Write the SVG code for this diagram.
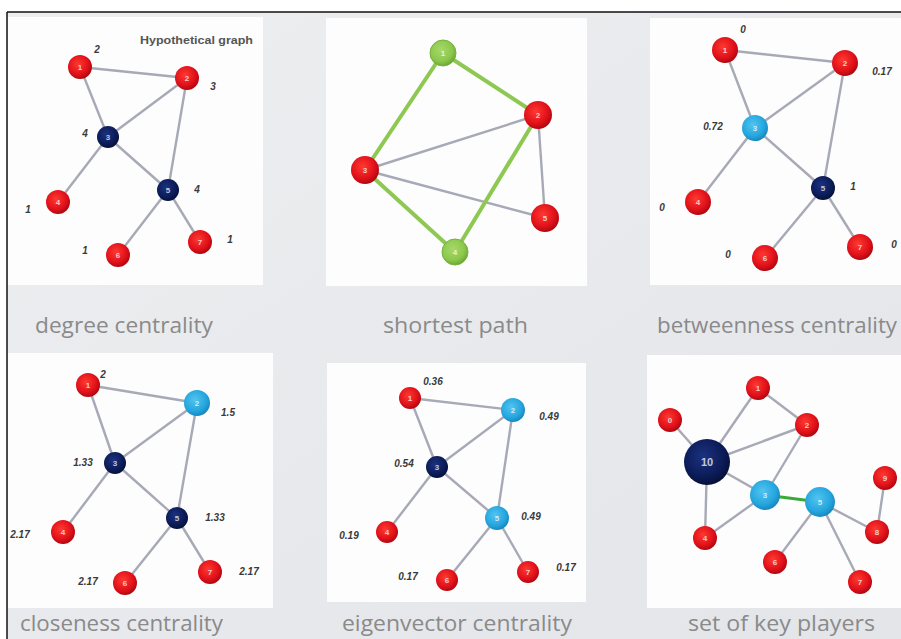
<svg xmlns="http://www.w3.org/2000/svg" width="901" height="639" viewBox="0 0 901 639">
<defs>
<radialGradient id="red" cx="0.42" cy="0.38" r="0.62">
<stop offset="0" stop-color="#ff3a30"/><stop offset="0.7" stop-color="#e0101a"/><stop offset="1" stop-color="#b00810"/>
</radialGradient>
<radialGradient id="navy" cx="0.42" cy="0.38" r="0.62">
<stop offset="0" stop-color="#1c3280"/><stop offset="0.7" stop-color="#0b1c58"/><stop offset="1" stop-color="#06113a"/>
</radialGradient>
<radialGradient id="cyan" cx="0.42" cy="0.38" r="0.62">
<stop offset="0" stop-color="#52c4f0"/><stop offset="0.7" stop-color="#25a6de"/><stop offset="1" stop-color="#1a88c0"/>
</radialGradient>
<radialGradient id="green" cx="0.42" cy="0.38" r="0.62">
<stop offset="0" stop-color="#a6d86a"/><stop offset="0.7" stop-color="#8cc84c"/><stop offset="1" stop-color="#6ea836"/>
</radialGradient>
<linearGradient id="bg" x1="0" y1="0" x2="1" y2="1">
<stop offset="0" stop-color="#eceef0"/><stop offset="1" stop-color="#e3e5e9"/>
</linearGradient>
<style>
.panel{fill:#fdfdfd}
.e{stroke:#a7aab6;stroke-width:2.4;fill:none}
.g{stroke:#8dc852;stroke-width:4;fill:none}
.lbl{font-family:"Open Sans","Liberation Sans",sans-serif;font-size:22px;fill:#8a8a8a}
.v{font-family:"Liberation Sans",sans-serif;font-style:italic;font-weight:bold;font-size:10px;fill:#3a3a3a;text-anchor:middle}
.n{font-family:"Liberation Sans",sans-serif;font-size:8px;font-weight:bold;fill:#ffffff;fill-opacity:0.75;text-anchor:middle}
.r{fill:url(#red)}
.k{fill:url(#navy)}
.c{fill:url(#cyan)}
.gr{fill:url(#green)}
</style>
</defs>
<rect x="0" y="0" width="901" height="639" fill="#ffffff"/>
<rect x="7" y="12" width="894" height="627" fill="url(#bg)"/>
<line x1="7" y1="12" x2="901" y2="12" stroke="#111" stroke-width="1.5"/>
<line x1="7" y1="12" x2="7" y2="639" stroke="#111" stroke-width="1.5"/>

<!-- panels -->
<rect class="panel" x="8" y="17" width="255" height="268"/>
<rect class="panel" x="326" y="18" width="261" height="268"/>
<rect class="panel" x="650" y="18" width="251" height="267"/>
<rect class="panel" x="8" y="353" width="265" height="255"/>
<rect class="panel" x="327" y="363" width="259" height="239"/>
<rect class="panel" x="647" y="355" width="254" height="253"/>

<!-- captions -->
<text class="lbl" x="35" y="333" textLength="178" lengthAdjust="spacingAndGlyphs">degree centrality</text>
<text class="lbl" x="383" y="333" textLength="145" lengthAdjust="spacingAndGlyphs">shortest path</text>
<text class="lbl" x="657" y="333" textLength="240" lengthAdjust="spacingAndGlyphs">betweenness centrality</text>
<text class="lbl" x="20" y="631" textLength="203" lengthAdjust="spacingAndGlyphs">closeness centrality</text>
<text class="lbl" x="342" y="631" textLength="230" lengthAdjust="spacingAndGlyphs">eigenvector centrality</text>
<text class="lbl" x="688" y="631" textLength="187" lengthAdjust="spacingAndGlyphs">set of key players</text>

<!-- ===== Panel 1: degree centrality ===== -->
<text x="140" y="44" textLength="113" lengthAdjust="spacingAndGlyphs" style="font-family:'Liberation Sans',sans-serif;font-size:10px;font-weight:bold;fill:#555">Hypothetical graph</text>
<g id="p1-connectors">
<line class="e" x1="80" y1="67" x2="187" y2="78"/>
<line class="e" x1="80" y1="67" x2="108" y2="137"/>
<line class="e" x1="187" y1="78" x2="108" y2="137"/>
<line class="e" x1="187" y1="78" x2="168" y2="190"/>
<line class="e" x1="108" y1="137" x2="168" y2="190"/>
<line class="e" x1="108" y1="137" x2="58" y2="202"/>
<line class="e" x1="168" y1="190" x2="118" y2="255"/>
<line class="e" x1="168" y1="190" x2="200" y2="242"/>
</g>
<g id="p1-n1"><circle class="r" cx="80" cy="67" r="12"/><text class="n" x="80" y="70">1</text><text class="v" x="97" y="53">2</text></g>
<g id="p1-n2"><circle class="r" cx="187" cy="78" r="12"/><text class="n" x="187" y="81">2</text><text class="v" x="213" y="90">3</text></g>
<g id="p1-n3"><circle class="k" cx="108" cy="137" r="11"/><text class="n" x="108" y="140">3</text><text class="v" x="85" y="137">4</text></g>
<g id="p1-n4"><circle class="r" cx="58" cy="202" r="12"/><text class="n" x="58" y="205">4</text><text class="v" x="28" y="213">1</text></g>
<g id="p1-n5"><circle class="k" cx="168" cy="190" r="11"/><text class="n" x="168" y="193">5</text><text class="v" x="197" y="193">4</text></g>
<g id="p1-n6"><circle class="r" cx="118" cy="255" r="12"/><text class="n" x="118" y="258">6</text><text class="v" x="85" y="254">1</text></g>
<g id="p1-n7"><circle class="r" cx="200" cy="242" r="12"/><text class="n" x="200" y="245">7</text><text class="v" x="230" y="243">1</text></g>

<!-- ===== Panel 2: shortest path ===== -->
<g id="p2-connectors">
<line class="e" x1="365" y1="170" x2="538" y2="115"/>
<line class="e" x1="365" y1="170" x2="545" y2="218"/>
<line class="e" x1="538" y1="115" x2="545" y2="218"/>
<line class="g" x1="443" y1="53" x2="365" y2="170"/>
<line class="g" x1="443" y1="53" x2="538" y2="115"/>
<line class="g" x1="365" y1="170" x2="455" y2="252"/>
<line class="g" x1="455" y1="252" x2="538" y2="115"/>
</g>
<g id="p2-n1"><circle class="gr" cx="443" cy="53" r="13" stroke="#78b040" stroke-width="1"/><text class="n" x="443" y="56">1</text></g>
<g id="p2-n2"><circle class="r" cx="538" cy="115" r="14"/><text class="n" x="538" y="118">2</text></g>
<g id="p2-n3"><circle class="r" cx="365" cy="170" r="14"/><text class="n" x="365" y="173">3</text></g>
<g id="p2-n4"><circle class="gr" cx="455" cy="252" r="13" stroke="#78b040" stroke-width="1"/><text class="n" x="455" y="255">4</text></g>
<g id="p2-n5"><circle class="r" cx="545" cy="218" r="14"/><text class="n" x="545" y="221">5</text></g>

<!-- ===== Panel 3: betweenness centrality ===== -->
<g id="p3-connectors">
<line class="e" x1="725" y1="50" x2="845" y2="63"/>
<line class="e" x1="725" y1="50" x2="755" y2="128"/>
<line class="e" x1="845" y1="63" x2="755" y2="128"/>
<line class="e" x1="845" y1="63" x2="823" y2="188"/>
<line class="e" x1="755" y1="128" x2="823" y2="188"/>
<line class="e" x1="755" y1="128" x2="698" y2="202"/>
<line class="e" x1="823" y1="188" x2="765" y2="258"/>
<line class="e" x1="823" y1="188" x2="860" y2="247"/>
</g>
<g id="p3-n1"><circle class="r" cx="725" cy="50" r="13"/><text class="n" x="725" y="53">1</text><text class="v" x="743" y="33">0</text></g>
<g id="p3-n2"><circle class="r" cx="845" cy="63" r="13"/><text class="n" x="845" y="66">2</text><text class="v" x="882" y="75">0.17</text></g>
<g id="p3-n3"><circle class="c" cx="755" cy="128" r="13"/><text class="n" x="755" y="131">3</text><text class="v" x="713" y="130">0.72</text></g>
<g id="p3-n4"><circle class="r" cx="698" cy="202" r="13"/><text class="n" x="698" y="205">4</text><text class="v" x="662" y="211">0</text></g>
<g id="p3-n5"><circle class="k" cx="823" cy="188" r="12"/><text class="n" x="823" y="191">5</text><text class="v" x="853" y="190">1</text></g>
<g id="p3-n6"><circle class="r" cx="765" cy="258" r="13"/><text class="n" x="765" y="261">6</text><text class="v" x="728" y="258">0</text></g>
<g id="p3-n7"><circle class="r" cx="860" cy="247" r="13"/><text class="n" x="860" y="250">7</text><text class="v" x="894" y="248">0</text></g>

<!-- ===== Panel 4: closeness centrality ===== -->
<g id="p4-connectors">
<line class="e" x1="88" y1="385" x2="197" y2="403"/>
<line class="e" x1="88" y1="385" x2="115" y2="463"/>
<line class="e" x1="197" y1="403" x2="115" y2="463"/>
<line class="e" x1="197" y1="403" x2="177" y2="518"/>
<line class="e" x1="115" y1="463" x2="177" y2="518"/>
<line class="e" x1="115" y1="463" x2="63" y2="532"/>
<line class="e" x1="177" y1="518" x2="125" y2="583"/>
<line class="e" x1="177" y1="518" x2="210" y2="572"/>
</g>
<g id="p4-n1"><circle class="r" cx="88" cy="385" r="12"/><text class="n" x="88" y="388">1</text><text class="v" x="103" y="378">2</text></g>
<g id="p4-n2"><circle class="c" cx="197" cy="403" r="13"/><text class="n" x="197" y="406">2</text><text class="v" x="228" y="416">1.5</text></g>
<g id="p4-n3"><circle class="k" cx="115" cy="463" r="11"/><text class="n" x="115" y="466">3</text><text class="v" x="83" y="466">1.33</text></g>
<g id="p4-n4"><circle class="r" cx="63" cy="532" r="12"/><text class="n" x="63" y="535">4</text><text class="v" x="20" y="538">2.17</text></g>
<g id="p4-n5"><circle class="k" cx="177" cy="518" r="11"/><text class="n" x="177" y="521">5</text><text class="v" x="215" y="521">1.33</text></g>
<g id="p4-n6"><circle class="r" cx="125" cy="583" r="12"/><text class="n" x="125" y="586">6</text><text class="v" x="88" y="585">2.17</text></g>
<g id="p4-n7"><circle class="r" cx="210" cy="572" r="12"/><text class="n" x="210" y="575">7</text><text class="v" x="249" y="575">2.17</text></g>

<!-- ===== Panel 5: eigenvector centrality ===== -->
<g id="p5-connectors">
<line class="e" x1="410" y1="398" x2="513" y2="410"/>
<line class="e" x1="410" y1="398" x2="437" y2="467"/>
<line class="e" x1="513" y1="410" x2="437" y2="467"/>
<line class="e" x1="513" y1="410" x2="497" y2="518"/>
<line class="e" x1="437" y1="467" x2="497" y2="518"/>
<line class="e" x1="437" y1="467" x2="387" y2="532"/>
<line class="e" x1="497" y1="518" x2="447" y2="580"/>
<line class="e" x1="497" y1="518" x2="528" y2="572"/>
</g>
<g id="p5-n1"><circle class="r" cx="410" cy="398" r="11"/><text class="n" x="410" y="401">1</text><text class="v" x="433" y="385">0.36</text></g>
<g id="p5-n2"><circle class="c" cx="513" cy="410" r="12"/><text class="n" x="513" y="413">2</text><text class="v" x="549" y="420">0.49</text></g>
<g id="p5-n3"><circle class="k" cx="437" cy="467" r="11"/><text class="n" x="437" y="470">3</text><text class="v" x="404" y="467">0.54</text></g>
<g id="p5-n4"><circle class="r" cx="387" cy="532" r="11"/><text class="n" x="387" y="535">4</text><text class="v" x="349" y="539">0.19</text></g>
<g id="p5-n5"><circle class="c" cx="497" cy="518" r="12"/><text class="n" x="497" y="521">5</text><text class="v" x="531" y="520">0.49</text></g>
<g id="p5-n6"><circle class="r" cx="447" cy="580" r="11"/><text class="n" x="447" y="583">6</text><text class="v" x="408" y="580">0.17</text></g>
<g id="p5-n7"><circle class="r" cx="528" cy="572" r="11"/><text class="n" x="528" y="575">7</text><text class="v" x="566" y="571">0.17</text></g>

<!-- ===== Panel 6: set of key players ===== -->
<g id="p6-connectors">
<line class="e" x1="670" y1="420" x2="707" y2="462"/>
<line class="e" x1="758" y1="388" x2="707" y2="462"/>
<line class="e" x1="758" y1="388" x2="807" y2="425"/>
<line class="e" x1="807" y1="425" x2="707" y2="462"/>
<line class="e" x1="807" y1="425" x2="765" y2="495"/>
<line class="e" x1="707" y1="462" x2="765" y2="495"/>
<line class="e" x1="707" y1="462" x2="705" y2="538"/>
<line class="e" x1="705" y1="538" x2="765" y2="495"/>
<line class="e" x1="820" y1="502" x2="877" y2="532"/>
<line class="e" x1="877" y1="532" x2="885" y2="478"/>
<line class="e" x1="820" y1="502" x2="775" y2="562"/>
<line class="e" x1="820" y1="502" x2="860" y2="582"/>
<line x1="765" y1="495" x2="820" y2="502" stroke="#3aa83a" stroke-width="3"/>
</g>
<g id="p6-n0"><circle class="r" cx="670" cy="420" r="12"/><text class="n" x="670" y="423">0</text></g>
<g id="p6-n1"><circle class="r" cx="758" cy="388" r="12"/><text class="n" x="758" y="391">1</text></g>
<g id="p6-n2"><circle class="r" cx="807" cy="425" r="12"/><text class="n" x="807" y="428">2</text></g>
<g id="p6-n10"><circle class="k" cx="707" cy="462" r="23"/><text class="n" x="707" y="466" style="font-size:11px">10</text></g>
<g id="p6-n3"><circle class="c" cx="765" cy="495" r="15"/><text class="n" x="765" y="498">3</text></g>
<g id="p6-n5"><circle class="c" cx="820" cy="502" r="15"/><text class="n" x="820" y="505">5</text></g>
<g id="p6-n9"><circle class="r" cx="885" cy="478" r="12"/><text class="n" x="885" y="481">9</text></g>
<g id="p6-n8"><circle class="r" cx="877" cy="532" r="12"/><text class="n" x="877" y="535">8</text></g>
<g id="p6-n4"><circle class="r" cx="705" cy="538" r="12"/><text class="n" x="705" y="541">4</text></g>
<g id="p6-n6"><circle class="r" cx="775" cy="562" r="12"/><text class="n" x="775" y="565">6</text></g>
<g id="p6-n7"><circle class="r" cx="860" cy="582" r="12"/><text class="n" x="860" y="585">7</text></g>
</svg>
